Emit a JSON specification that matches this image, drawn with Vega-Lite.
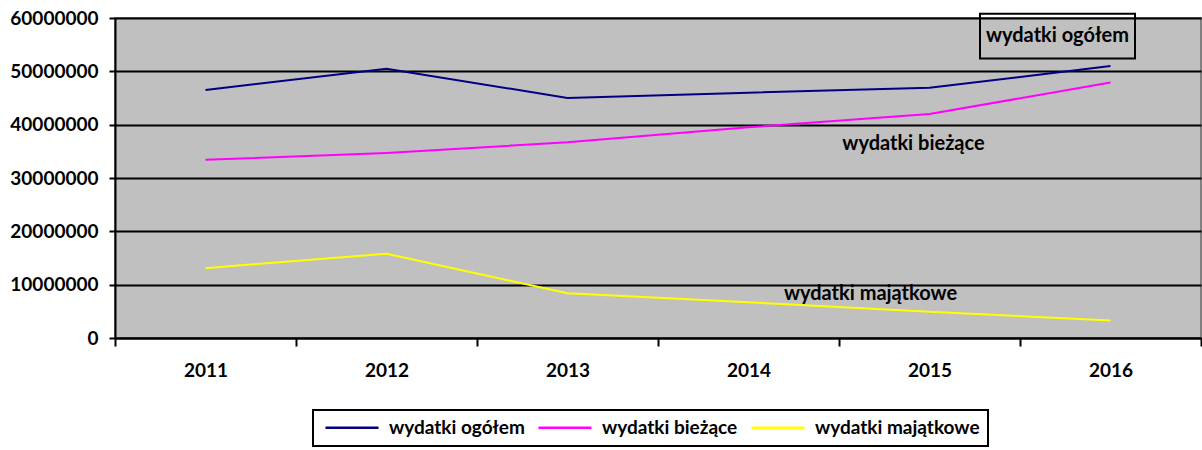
{
  "$schema": "https://vega.github.io/schema/vega-lite/v6.json",
  "width": 1086,
  "height": 320,
  "autosize": {"type": "none"},
  "padding": {"left": 115, "top": 18, "right": 1, "bottom": 112},
  "background": "white",
  "config": {
    "font": "Lato",
    "view": {"fill": "#C0C0C0", "stroke": "#808080", "strokeWidth": 2}
  },
  "datasets": {
    "series": [
      {"year": "2011", "seria": "wydatki ogółem", "value": 46500000},
      {"year": "2012", "seria": "wydatki ogółem", "value": 50500000},
      {"year": "2013", "seria": "wydatki ogółem", "value": 45000000},
      {"year": "2014", "seria": "wydatki ogółem", "value": 46000000},
      {"year": "2015", "seria": "wydatki ogółem", "value": 46900000},
      {"year": "2016", "seria": "wydatki ogółem", "value": 51000000},
      {"year": "2011", "seria": "wydatki bieżące", "value": 33400000},
      {"year": "2012", "seria": "wydatki bieżące", "value": 34700000},
      {"year": "2013", "seria": "wydatki bieżące", "value": 36700000},
      {"year": "2014", "seria": "wydatki bieżące", "value": 39500000},
      {"year": "2015", "seria": "wydatki bieżące", "value": 42000000},
      {"year": "2016", "seria": "wydatki bieżące", "value": 47900000},
      {"year": "2011", "seria": "wydatki majątkowe", "value": 13100000},
      {"year": "2012", "seria": "wydatki majątkowe", "value": 15800000},
      {"year": "2013", "seria": "wydatki majątkowe", "value": 8400000},
      {"year": "2014", "seria": "wydatki majątkowe", "value": 6700000},
      {"year": "2015", "seria": "wydatki majątkowe", "value": 4900000},
      {"year": "2016", "seria": "wydatki majątkowe", "value": 3300000}
    ],
    "labels": [
      {"year": "2016", "value": 56600000, "label": "wydatki ogółem", "kind": "boxed"},
      {"year": "2015", "value": 36400000, "label": "wydatki bieżące", "kind": "plain"},
      {"year": "2015", "value": 8200000, "label": "wydatki majątkowe", "kind": "plain2"}
    ]
  },
  "layer": [
    {
      "data": {"name": "series"},
      "mark": {"type": "line", "strokeWidth": 2},
      "encoding": {
        "x": {
          "field": "year", "type": "ordinal",
          "scale": {"paddingInner": 0, "paddingOuter": 0},
          "axis": {
            "title": null, "labelAngle": 0, "tickBand": "extent",
            "domainColor": "black", "domainWidth": 2,
            "tickColor": "black", "tickWidth": 2, "tickSize": 8,
            "labelFontSize": 19, "labelFontWeight": "bold", "labelColor": "black",
            "labelPadding": 15, "grid": false
          }
        },
        "y": {
          "field": "value", "type": "quantitative",
          "scale": {"domain": [0, 60000000], "nice": false},
          "axis": {
            "title": null, "values": [0, 10000000, 20000000, 30000000, 40000000, 50000000, 60000000],
            "format": "d", "domainColor": "black", "domainWidth": 2,
            "tickColor": "black", "tickWidth": 2, "tickSize": 6,
            "gridColor": "black", "gridWidth": 2, "gridOpacity": 1,
            "labelFontSize": 19, "labelFontWeight": "bold", "labelColor": "black",
            "labelPadding": 11
          }
        },
        "color": {
          "field": "seria", "type": "nominal",
          "scale": {
            "domain": ["wydatki ogółem", "wydatki bieżące", "wydatki majątkowe"],
            "range": ["#000080", "#FF00FF", "#FFFF00"]
          },
          "legend": {
            "title": null, "orient": "none", "legendX": 198, "legendY": 392,
            "direction": "horizontal", "columns": 3,
            "strokeColor": "black", "padding": 8, "fillColor": "white",
            "symbolType": "M-1,0L9.6,0", "symbolSize": 100, "symbolStrokeWidth": 2.5,
            "labelFontSize": 19, "labelFontWeight": "bold", "labelColor": "black",
            "labelLimit": 300, "columnPadding": 8, "labelOffset": 49,
            "encode": {"legend": {"update": {"strokeWidth": {"value": 2}}}}
          }
        }
      }
    },
    {
      "data": {"name": "labels"},
      "transform": [{"filter": "datum.kind == 'boxed'"}],
      "mark": {
        "type": "point", "shape": "M-1,-0.29L1,-0.29L1,0.29L-1,0.29Z",
        "size": 24025, "filled": false, "stroke": "black", "strokeWidth": 2,
        "opacity": 1, "xOffset": -53
      },
      "encoding": {
        "x": {"field": "year", "type": "ordinal"},
        "y": {"field": "value", "type": "quantitative"}
      }
    },
    {
      "data": {"name": "labels"},
      "transform": [{"filter": "datum.kind == 'boxed'"}],
      "mark": {"type": "text", "fontSize": 20, "fontWeight": "bold", "color": "black", "dx": -53},
      "encoding": {
        "x": {"field": "year", "type": "ordinal"},
        "y": {"field": "value", "type": "quantitative"},
        "text": {"field": "label"}
      }
    },
    {
      "data": {"name": "labels"},
      "transform": [{"filter": "datum.kind == 'plain'"}],
      "mark": {"type": "text", "fontSize": 20, "fontWeight": "bold", "color": "black", "dx": -16},
      "encoding": {
        "x": {"field": "year", "type": "ordinal"},
        "y": {"field": "value", "type": "quantitative"},
        "text": {"field": "label"}
      }
    },
    {
      "data": {"name": "labels"},
      "transform": [{"filter": "datum.kind == 'plain2'"}],
      "mark": {"type": "text", "fontSize": 20, "fontWeight": "bold", "color": "black", "dx": -59},
      "encoding": {
        "x": {"field": "year", "type": "ordinal"},
        "y": {"field": "value", "type": "quantitative"},
        "text": {"field": "label"}
      }
    }
  ]
}
